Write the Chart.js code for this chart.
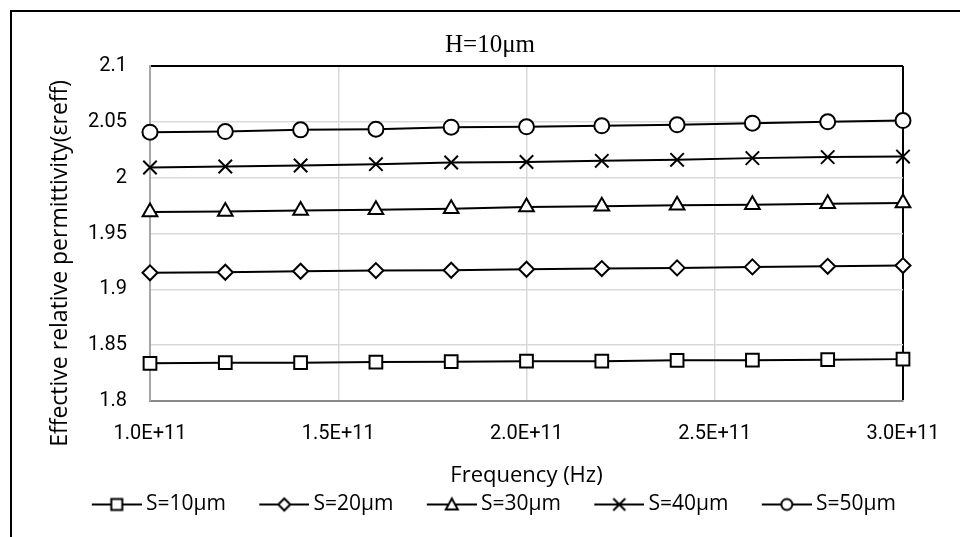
<!DOCTYPE html>
<html lang="en">
<head>
  <meta charset="UTF-8">
  <title>Effective relative permittivity vs frequency</title>
  <script src="https://cdn.jsdelivr.net/npm/chart.js"></script>
  <style>
    html, body { margin: 0; padding: 0; background: #fff; }
    #wrap { width: 960px; height: 537px; }
  </style>
</head>
<body>
  <div id="wrap"><canvas id="chart" width="960" height="537"></canvas></div>

  <script>
    // data
    const freqs = [1.0e11, 1.2e11, 1.4e11, 1.6e11, 1.8e11, 2.0e11, 2.2e11, 2.4e11, 2.6e11, 2.8e11, 3.0e11];
    const seriesNames = ['S=10μm', 'S=20μm', 'S=30μm', 'S=40μm', 'S=50μm'];
    const s10 = [1.8337, 1.8343, 1.8343, 1.8349, 1.8352, 1.8357, 1.8357, 1.8364, 1.8366, 1.8370, 1.8375];
    const s20 = [1.9148, 1.9153, 1.9162, 1.9168, 1.9171, 1.9180, 1.9186, 1.9192, 1.9201, 1.9206, 1.9213];
    const s30 = [1.9693, 1.9698, 1.9707, 1.9713, 1.9722, 1.9737, 1.9743, 1.9752, 1.9758, 1.9767, 1.9773];
    const s40 = [2.0091, 2.0100, 2.0109, 2.0121, 2.0136, 2.0140, 2.0151, 2.0160, 2.0175, 2.0184, 2.0189];
    const s50 = [2.0407, 2.0413, 2.0428, 2.0434, 2.0452, 2.0455, 2.0464, 2.0473, 2.0488, 2.0500, 2.0511];
    const yTicks = [1.8, 1.85, 1.9, 1.95, 2, 2.05, 2.1];

    const FONT = '"Open Sans", Roboto, sans-serif';
    const TICK_FONT = 'Roboto, "Open Sans", sans-serif';
    const markers = ['rect', 'rectRot', 'triangle', 'crossRot', 'circle'];
    const radii = [9, 7.5, 8.5, 9.5, 7.5];
    const allSeries = [s10, s20, s30, s40, s50];

    // small legend icon: line with marker in the middle
    function legendIcon(style, w) {
      const c = document.createElement('canvas');
      c.width = w; c.height = 20;
      const g = c.getContext('2d');
      const cx = w - 25, cy = 10;
      g.strokeStyle = '#000'; g.lineWidth = 2;
      g.beginPath(); g.moveTo(w - 50, cy); g.lineTo(w, cy); g.stroke();
      g.fillStyle = '#fff';
      g.beginPath();
      if (style === 'rect') {
        g.rect(cx - 5.5, cy - 5.5, 11, 11);
      } else if (style === 'rectRot') {
        g.moveTo(cx, cy - 6); g.lineTo(cx + 6, cy); g.lineTo(cx, cy + 6); g.lineTo(cx - 6, cy); g.closePath();
      } else if (style === 'triangle') {
        g.moveTo(cx, cy - 6); g.lineTo(cx + 6, cy + 5); g.lineTo(cx - 6, cy + 5); g.closePath();
      } else if (style === 'circle') {
        g.arc(cx, cy, 5.5, 0, Math.PI * 2);
      }
      if (style === 'crossRot') {
        g.moveTo(cx - 6, cy - 6); g.lineTo(cx + 6, cy + 6);
        g.moveTo(cx + 6, cy - 6); g.lineTo(cx - 6, cy + 6);
        g.stroke();
      } else {
        g.fill(); g.stroke();
      }
      return c;
    }

    // legend spacing from measured text width
    const legendFontSize = 21;
    const mctx = document.createElement('canvas').getContext('2d');
    mctx.font = legendFontSize + 'px ' + FONT;
    const textW = mctx.measureText(seriesNames[0]).width;
    const itemStep = 167.5;
    const legendPad = Math.max(4, 2 * (92.75 - textW));
    const boxW = itemStep - legendPad - legendFontSize / 2 - textW;
    const iconW = Math.round(boxW + 13);

    // y title sits lower than the plot centre in the reference
    const yTitleSize = 23;
    mctx.font = yTitleSize + 'px ' + FONT;
    const nSpaces = Math.round(62 / mctx.measureText(' ').width);
    const yTitle = 'Effective relative permittivity(εreff)' + ' '.repeat(nSpaces);

    const datasets = seriesNames.map((name, i) => ({
      label: name,
      data: freqs.map((f, j) => ({ x: f, y: allSeries[i][j] })),
      borderColor: '#000',
      borderWidth: 2,
      pointStyle: markers[i],
      pointRadius: radii[i],
      pointBorderWidth: 2,
      pointBorderColor: '#000',
      pointBackgroundColor: '#fff',
      tension: 0,
      clip: false,
      icon: legendIcon(markers[i], iconW)
    }));

    // outer frame of the chart object
    const framePlugin = {
      id: 'frame',
      beforeDraw(chart) {
        const ctx = chart.ctx;
        ctx.save();
        ctx.fillStyle = '#fff';
        ctx.fillRect(0, 0, chart.width, chart.height);
        ctx.strokeStyle = '#000';
        ctx.lineWidth = 2;
        ctx.strokeRect(11, 11, 1200, 1200);
        ctx.restore();
      }
    };

    new Chart(document.getElementById('chart'), {
      type: 'line',
      data: { datasets },
      plugins: [framePlugin],
      options: {
        responsive: false,
        animation: false,
        layout: { padding: { left: 40, right: 20, top: 0, bottom: 12 } },
        plugins: {
          title: {
            display: true,
            text: 'H=10μm',
            color: '#000',
            font: { family: '"Liberation Serif", "Times New Roman", serif', size: 25, weight: 'normal' },
            padding: { top: 30, bottom: 6 }
          },
          legend: {
            position: 'bottom',
            labels: {
              usePointStyle: true,
              pointStyleWidth: boxW,
              boxHeight: 16,
              padding: legendPad,
              color: '#000',
              font: { family: FONT, size: legendFontSize },
              generateLabels(chart) {
                return chart.data.datasets.map((ds, i) => ({
                  text: ds.label,
                  pointStyle: ds.icon,
                  fillStyle: '#fff',
                  strokeStyle: '#000',
                  lineWidth: 0,
                  fontColor: '#000',
                  hidden: false,
                  datasetIndex: i
                }));
              }
            }
          },
          tooltip: { enabled: false }
        },
        scales: {
          x: {
            type: 'linear',
            min: 1e11,
            max: 3e11,
            afterFit(scale) { scale.height = 489 - 402 - (legendPad - 6); scale.paddingRight = 57; },
            ticks: {
              stepSize: 5e10,
              padding: 21,
              color: '#000',
              font: { family: TICK_FONT, size: 20 },
              maxRotation: 0,
              callback: v => (v / 1e11).toFixed(1) + 'E+11'
            },
            grid: {
              drawTicks: false,
              color: ctx => ctx.tick && ctx.tick.value >= 3e11 ? '#000' : '#d9d9d9',
              lineWidth: ctx => ctx.tick && ctx.tick.value >= 3e11 ? 2 : 1.5
            },
            border: { color: '#898989', width: 2 },
            title: {
              display: true,
              text: 'Frequency (Hz)',
              color: '#000',
              font: { family: FONT, size: 22 },
              padding: { top: 0, bottom: -1 - (legendPad - 6) }
            }
          },
          y: {
            min: 1.8,
            max: 2.1,
            afterFit(scale) { scale.width = 110; },
            afterBuildTicks(scale) { scale.ticks = yTicks.map(v => ({ value: v })); },
            ticks: {
              padding: 23,
              color: '#000',
              font: { family: TICK_FONT, size: 20 },
              callback: v => String(parseFloat(v.toFixed(2)))
            },
            grid: {
              drawTicks: false,
              color: ctx => ctx.tick && ctx.tick.value >= 2.1 ? '#000' : '#d9d9d9',
              lineWidth: ctx => ctx.tick && ctx.tick.value >= 2.1 ? 2 : 1.5
            },
            border: { color: '#a6a6a6', width: 2 },
            title: {
              display: true,
              text: yTitle,
              color: '#000',
              font: { family: FONT, size: yTitleSize },
              padding: { top: 7, bottom: 0 }
            }
          }
        }
      }
    });
  </script>
</body>
</html>
